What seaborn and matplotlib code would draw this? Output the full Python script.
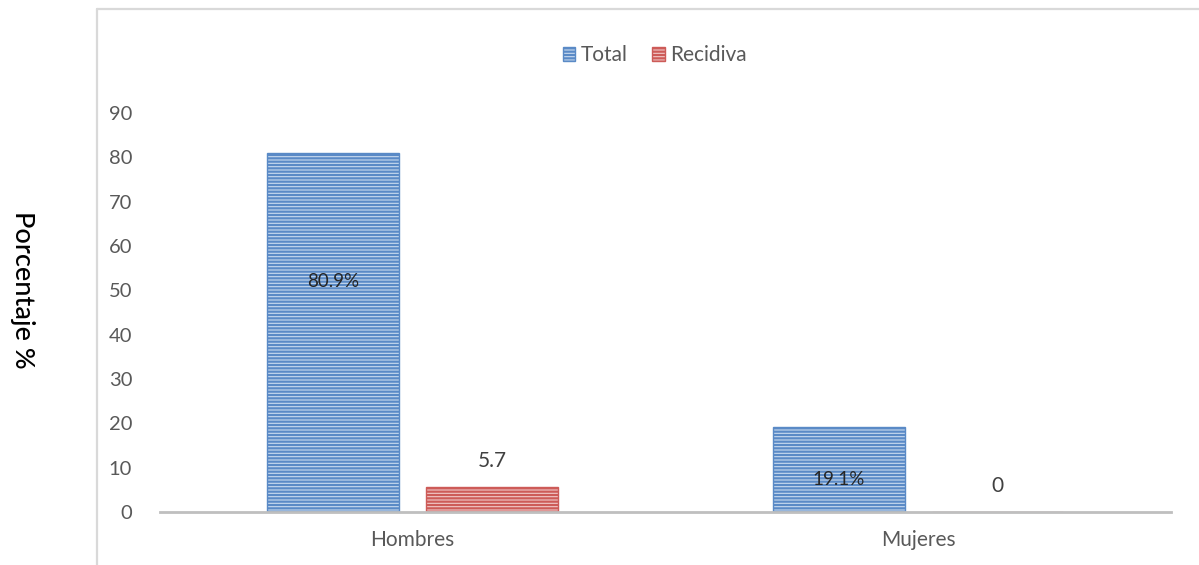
import matplotlib
matplotlib.use("Agg")
import matplotlib.pyplot as plt
import seaborn as sns
import pandas as pd
from matplotlib.lines import Line2D
from matplotlib.patches import Patch

# Data
categories = ["Hombres", "Mujeres"]
series_names = ["Total", "Recidiva"]
total_values = [80.9, 19.1]
recidiva_values = [5.7, 0.0]
total_labels = ["80.9%", "19.1%"]
recidiva_labels = ["5.7", "0"]
y_ticks = [0, 10, 20, 30, 40, 50, 60, 70, 80, 90]

df = pd.DataFrame({
    "categoria": categories * 2,
    "serie": [series_names[0]] * 2 + [series_names[1]] * 2,
    "valor": total_values + recidiva_values,
})

sns.set_theme(style="white")
plt.rcParams["font.family"] = ["Lato", "DejaVu Sans"]
plt.rcParams["hatch.linewidth"] = 1.6

face_colors = {"Total": "#c9daef", "Recidiva": "#f1c9c8"}
edge_colors = {"Total": "#5a8ac6", "Recidiva": "#cd5b58"}

fig = plt.figure(figsize=(11.99, 5.65), dpi=100)
ax = fig.add_axes([0.1334, 0.0938, 0.9766 - 0.1334, 0.80 - 0.0938])

sns.barplot(data=df, x="categoria", y="valor", hue="serie",
            order=categories, hue_order=series_names,
            width=0.628, gap=0.17, ax=ax, legend=False,
            palette=face_colors, saturation=1)

for container, name in zip(ax.containers, series_names):
    for bar in container:
        bar.set_facecolor(face_colors[name])
        bar.set_edgecolor(edge_colors[name])
        bar.set_linewidth(1.0)
        bar.set_hatch("-----")

ax.set_ylim(0, 90)
ax.set_xlim(-0.5, 1.5)
ax.set_yticks(y_ticks)
ax.set_yticklabels([str(t) for t in y_ticks], fontsize=14.5, color="#595959")
ax.tick_params(axis="y", length=0, pad=20)
ax.tick_params(axis="x", length=0, pad=13, labelsize=15, labelcolor="#595959")
ax.set_xlabel("")
ax.set_ylabel("")
for side in ["top", "right", "left"]:
    ax.spines[side].set_visible(False)
ax.spines["bottom"].set_color("#bfbfbf")
ax.spines["bottom"].set_linewidth(2)

# Value labels
total_bars = ax.containers[0]
rec_bars = ax.containers[1]
total_label_y = [51.9, 7.3]
for bar, txt, ly in zip(total_bars, total_labels, total_label_y):
    ax.text(bar.get_x() + bar.get_width() / 2, ly, txt, ha="center", va="center",
            fontsize=13.5, color="#262626")
for bar, txt in zip(rec_bars, recidiva_labels):
    ax.text(bar.get_x() + bar.get_width() / 2, bar.get_height() + 5.9, txt,
            ha="center", va="center", fontsize=15, color="#404040")

# Y axis title
fig.text(0.019, 0.487, "Porcentaje %", rotation=270, ha="center", va="center",
         fontsize=19.5, color="#000000", fontweight="medium")

# Legend
handles = [Patch(facecolor=face_colors[n], edgecolor=edge_colors[n], hatch="-----",
                 linewidth=1.0) for n in series_names]
fig.legend(handles, series_names, loc="center", bbox_to_anchor=(0.546, 0.902),
           ncol=2, frameon=False, fontsize=15, handlelength=0.6, handleheight=0.6,
           handletextpad=0.25, columnspacing=1.2, labelcolor="#595959")

# Chart frame
fig.add_artist(Line2D([0.081, 0.081], [0.0, 0.984], color="#d9d9d9", linewidth=1.6,
                      transform=fig.transFigure))
fig.add_artist(Line2D([0.081, 1.0], [0.984, 0.984], color="#d9d9d9", linewidth=1.6,
                      transform=fig.transFigure))

fig.savefig("out.png", dpi=100)
